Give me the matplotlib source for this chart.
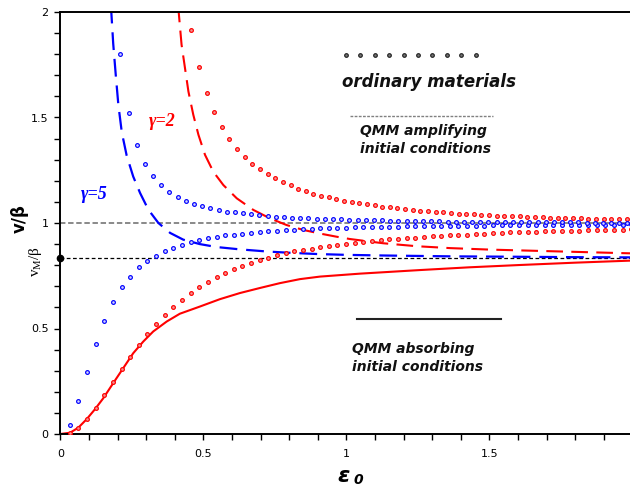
import numpy as np
import matplotlib
matplotlib.use("Agg")
import matplotlib.pyplot as plt
from matplotlib.ticker import MultipleLocator

# ---------------- data ----------------
# ordinary materials, lower branches (same eps grid)
eps_low = np.round(0.033 + 0.0302 * np.arange(66), 4)
red_low = [0.005, 0.030, 0.073, 0.122, 0.184, 0.245, 0.309, 0.366, 0.422, 0.474,
           0.522, 0.563, 0.602, 0.635, 0.670, 0.697, 0.721, 0.743, 0.763, 0.781,
           0.798, 0.811, 0.825, 0.836, 0.846, 0.856, 0.865, 0.872, 0.879, 0.886,
           0.892, 0.897, 0.902, 0.907, 0.911, 0.915, 0.919, 0.922, 0.925, 0.928,
           0.931, 0.934, 0.937, 0.939, 0.941, 0.943, 0.945, 0.947, 0.949, 0.951,
           0.953, 0.955, 0.956, 0.958, 0.959, 0.960, 0.961, 0.962, 0.963, 0.964,
           0.965, 0.966, 0.967, 0.968, 0.969, 0.970]
blue_low = [0.043, 0.158, 0.294, 0.427, 0.537, 0.627, 0.695, 0.745, 0.790, 0.820,
            0.845, 0.866, 0.883, 0.897, 0.910, 0.919, 0.928, 0.936, 0.941, 0.945,
            0.950, 0.954, 0.958, 0.961, 0.963, 0.965, 0.967, 0.970, 0.972, 0.974,
            0.976, 0.977, 0.978, 0.979, 0.980, 0.981, 0.982, 0.983, 0.983, 0.984,
            0.985, 0.985, 0.986, 0.986, 0.987, 0.987, 0.988, 0.988, 0.988, 0.989,
            0.989, 0.989, 0.990, 0.990, 0.990, 0.990, 0.991, 0.991, 0.991, 0.991,
            0.992, 0.992, 0.992, 0.992, 0.992, 0.993]

# ordinary materials, upper branches
eps_blue_up = np.round(0.210 + 0.0286 * np.arange(63), 4)
blue_up = [1.800, 1.520, 1.372, 1.281, 1.221, 1.178, 1.149, 1.125, 1.106, 1.092,
           1.079, 1.069, 1.062, 1.054, 1.050, 1.046, 1.041, 1.036, 1.032, 1.030,
           1.028, 1.025, 1.024, 1.022, 1.020, 1.019, 1.018, 1.017, 1.016, 1.015,
           1.014, 1.013, 1.012, 1.011, 1.010, 1.010, 1.009, 1.009, 1.008, 1.008,
           1.007, 1.007, 1.006, 1.006, 1.006, 1.005, 1.005, 1.005, 1.004, 1.004,
           1.004, 1.004, 1.003, 1.003, 1.003, 1.003, 1.003, 1.002, 1.002, 1.002,
           1.002, 1.002, 1.002]
eps_red_up = np.round(0.458 + 0.0267 * np.arange(58), 4)
red_up = [1.914, 1.739, 1.618, 1.525, 1.453, 1.396, 1.349, 1.311, 1.281, 1.254,
          1.231, 1.211, 1.193, 1.178, 1.163, 1.150, 1.139, 1.130, 1.121, 1.113,
          1.106, 1.100, 1.094, 1.088, 1.083, 1.078, 1.074, 1.070, 1.066, 1.062,
          1.059, 1.056, 1.053, 1.050, 1.048, 1.045, 1.043, 1.041, 1.039, 1.037,
          1.035, 1.034, 1.032, 1.031, 1.029, 1.028, 1.027, 1.026, 1.025, 1.024,
          1.023, 1.022, 1.021, 1.020, 1.020, 1.019, 1.018, 1.018]

# QMM amplifying initial conditions (dashed)
eps_blue_amp = [0.177, 0.185, 0.194, 0.203, 0.215, 0.232, 0.255, 0.279, 0.308, 0.343,
                0.384, 0.430, 0.488, 0.547, 0.628, 0.722, 0.800, 0.897, 1.000, 1.129,
                1.363, 1.600, 1.800, 2.0]
blue_amp = [2.03, 1.85, 1.70, 1.56, 1.43, 1.32, 1.22, 1.142, 1.063, 1.000,
            0.953, 0.921, 0.900, 0.886, 0.875, 0.865, 0.859, 0.853, 0.849, 0.846,
            0.842, 0.840, 0.838, 0.837]
eps_red_amp = [0.412, 0.424, 0.436, 0.448, 0.465, 0.483, 0.506, 0.535, 0.570, 0.617,
               0.675, 0.733, 0.792, 0.850, 0.908, 0.966, 1.013, 1.129, 1.246, 1.363,
               1.500, 1.750, 2.0]
red_amp = [2.03, 1.845, 1.734, 1.623, 1.513, 1.418, 1.323, 1.243, 1.180, 1.117,
           1.062, 1.022, 0.990, 0.967, 0.950, 0.935, 0.924, 0.904, 0.890, 0.881,
           0.874, 0.865, 0.856]

# QMM absorbing initial conditions (solid)
eps_red_abs = [0.0, 0.034, 0.063, 0.092, 0.121, 0.150, 0.185, 0.220, 0.255, 0.290,
               0.325, 0.372, 0.418, 0.488, 0.558, 0.628, 0.698, 0.768, 0.838, 0.908,
               1.048, 1.258, 1.430, 1.608, 1.800, 2.0]
red_abs = [0.0, 0.006, 0.030, 0.070, 0.117, 0.169, 0.241, 0.312, 0.383, 0.438,
           0.486, 0.533, 0.570, 0.604, 0.639, 0.668, 0.692, 0.715, 0.734, 0.746,
           0.760, 0.777, 0.790, 0.801, 0.812, 0.822]

v_ref = 1.0
vM_ref = 0.834

legend_dots_x = [0.999, 1.049, 1.100, 1.150, 1.200, 1.251, 1.301, 1.351, 1.402, 1.452]
legend_dots_y = 1.794
legend_dash_x = [1.012, 1.513]
legend_dash_y = 1.509
legend_solid_x = [1.036, 1.540]
legend_solid_y = 0.547

xticks = [0, 0.5, 1, 1.5, 2]
yticks = [0, 0.5, 1, 1.5, 2]
ticklabels = ['0', '0.5', '1', '1.5', '2']

# ---------------- figure ----------------
fig = plt.figure(figsize=(6.3, 4.86), dpi=100)
ax = fig.add_axes([60.3 / 630, 52 / 486, 572 / 630, 422 / 486])

RED = '#ff0000'
BLUE = '#0000ff'

ax.axhline(v_ref, color='#808080', lw=1.3, dashes=(3, 1.5), zorder=1)
ax.axhline(vM_ref, color='black', lw=0.9, dashes=(3, 2), zorder=1)

ax.plot(eps_red_abs, red_abs, color=RED, lw=1.5, zorder=2)
ax.plot(eps_red_amp, red_amp, color=RED, lw=1.5, dashes=(8, 4), zorder=2)
ax.plot(eps_blue_amp, blue_amp, color=BLUE, lw=1.6, dashes=(8, 4), zorder=2)

dot = dict(ls='none', marker='o', ms=2.7, mew=0.85, zorder=3)
ax.plot(eps_low, red_low, mec=RED, mfc='#f49090', **dot)
ax.plot(eps_red_up, red_up, mec=RED, mfc='#f49090', **dot)
ax.plot(eps_low, blue_low, mec=BLUE, mfc='#d0d0ff', **dot)
ax.plot(eps_blue_up, blue_up, mec=BLUE, mfc='#d0d0ff', **dot)

ax.plot([0], [vM_ref], 'o', color='black', ms=4.5, clip_on=False, zorder=5)

# legend-like annotations
ax.plot(legend_dots_x, [legend_dots_y] * len(legend_dots_x), ls='none', marker='o',
        ms=2.6, mec='#222222', mfc='#777777', mew=0.85)
ax.plot(legend_dash_x, [legend_dash_y] * 2, color='#808080', lw=1.0, dashes=(2, 1))
ax.plot(legend_solid_x, [legend_solid_y] * 2, color='#222222', lw=1.5)

tfont = dict(fontweight='bold', style='italic', family='DejaVu Sans', color='#111111')
ax.text(1.289, 1.668, 'ordinary materials', ha='center', va='center', fontsize=12, **tfont)
ax.text(1.048, 1.395, 'QMM amplifying\ninitial conditions', ha='left', va='center',
        fontsize=10, linespacing=1.35, **tfont)
ax.text(1.019, 0.360, 'QMM absorbing\ninitial conditions', ha='left', va='center',
        fontsize=10, linespacing=1.35, **tfont)

gfont = dict(fontweight='bold', style='italic', family='Liberation Serif')
ax.text(0.356, 1.48, 'γ=2', color=RED, ha='center', va='center', fontsize=13, **gfont)
ax.text(0.118, 1.134, 'γ=5', color=BLUE, ha='center', va='center', fontsize=13, **gfont)

# axes styling
ax.set_xlim(0, 2)
ax.set_ylim(0, 2)
ax.set_xticks(xticks)
ax.set_yticks(yticks)
ax.xaxis.set_minor_locator(MultipleLocator(0.1))
ax.yaxis.set_minor_locator(MultipleLocator(0.1))
ax.set_xticklabels(ticklabels)
ax.set_yticklabels(ticklabels)
ax.tick_params(which='both', direction='out', length=4.5, width=1.0, color='black')
ax.tick_params(axis='x', which='major', pad=6, labelsize=8)
ax.tick_params(axis='y', which='major', pad=4, labelsize=8)
ax.tick_params(top=False, right=False, which='both')
for s in ['left', 'bottom', 'top']:
    ax.spines[s].set_linewidth(1.4)
ax.spines['right'].set_visible(False)

# axis labels
fig.text(20 / 630, 1 - 219 / 486, 'v/β', rotation=90, ha='center', va='center',
         fontsize=12, fontweight='bold', family='DejaVu Sans')
fig.text(36 / 630, 1 - 261 / 486, 'v$_\\mathregular{M}$/β', rotation=90, ha='center',
         va='center', fontsize=11, family='Liberation Serif')
fig.text(344 / 630, 1 - 482 / 486, 'ε', ha='center', va='baseline', fontsize=16,
         fontweight='bold', style='italic', family='DejaVu Sans')
fig.text(353 / 630, 1 - 484 / 486, '0', ha='left', va='baseline', fontsize=10,
         fontweight='bold', style='italic', family='DejaVu Sans')

fig.savefig('out.png', dpi=100)
